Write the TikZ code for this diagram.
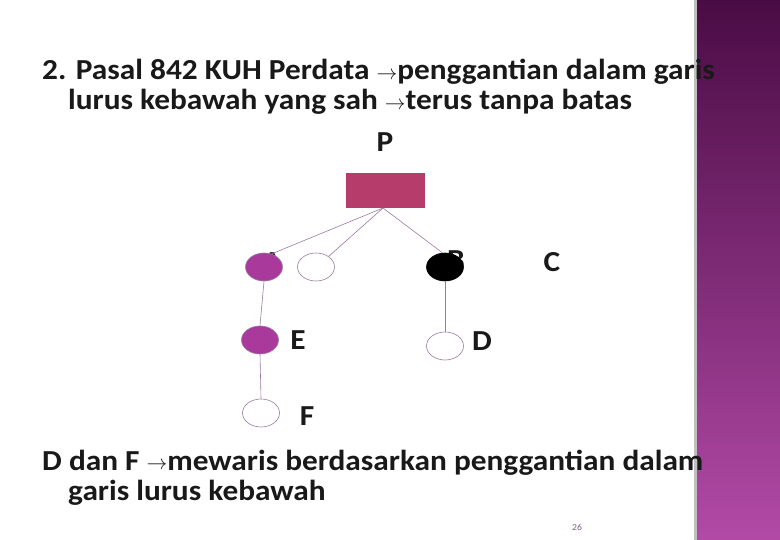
\documentclass[tikz,border=0pt]{standalone}
\usepackage{fontspec}
\setmainfont{Carlito}[FakeStretch=1.08]
\usetikzlibrary{shapes.geometric}
\begin{document}
\begin{tikzpicture}[x=1pt,y=-1pt,
  txt/.style={anchor=base west,inner sep=0pt,font=\fontsize{29}{33}\selectfont\bfseries,text=black!90},
  lbl/.style={anchor=center,inner sep=0pt,font=\fontsize{29}{33}\selectfont\bfseries,text=black!90},
  person/.style={ellipse,draw=linec,line width=0.6pt,minimum width=37pt,minimum height=28pt,inner sep=0pt},
  link/.style={draw=linec,line width=0.6pt}]
\definecolor{linec}{HTML}{9A7CA0}
\definecolor{rectc}{HTML}{B63D6B}
\definecolor{purp}{HTML}{A93A9C}
\definecolor{bandtop}{HTML}{4A0C45}
\definecolor{bandbot}{HTML}{B24AA6}
\definecolor{numc}{HTML}{7A5A80}
\newcommand{\arr}{\raisebox{0.5pt}{\fontsize{21}{21}\selectfont$\rightarrow$}}
\useasboundingbox (0,0) rectangle (780,540);
\fill[white] (0,0) rectangle (780,540);
\fill[black!25] (694,0) rectangle (698,540);
\shade[top color=bandtop,bottom color=bandbot] (697,0) rectangle (780,540);
\node[txt] (l1) at (42,80) {2. Pasal 842 KUH Perdata \arr penggantian dalam garis};
\node[txt] (l2) at (68,110) {lurus kebawah yang sah \arr terus tanpa batas};
\node[lbl] (lp) at (385,142) {P};
\node[fill=rectc,minimum width=79pt,minimum height=35pt,inner sep=0pt] (p) at (385.5,190.5) {};
\node[lbl] (la) at (272,262) {A};
\node[lbl] (lb) at (456,260) {B};
\node[person,fill=purp] (a) at (264,267) {};
\node[person,fill=white] (w) at (316,267) {};
\node[person,fill=black,draw=black] (b) at (445,267) {};
\node[lbl] (lc) at (552,262) {C};
\node[person,fill=purp] (e) at (260,340) {};
\node[lbl] (le) at (298,340) {E};
\node[person,fill=white] (d) at (445,346) {};
\node[lbl] (ld) at (482,341) {D};
\node[person,fill=white] (f) at (261,413) {};
\node[lbl] (lf) at (307,416) {F};
\coordinate (pb) at (383,208);
\draw[link] (pb) -- (a.60);
\draw[link] (pb) -- (w.40);
\draw[link] (pb) -- (b.100);
\draw[link] (a.south) -- (e.north);
\draw[link] (e.south) -- (f.north);
\draw[link] (b.south) -- (d.north);
\node[txt] (l3) at (42,470) {D dan F \arr mewaris berdasarkan penggantian dalam};
\node[txt] (l4) at (68,500) {garis lurus kebawah};
\node[anchor=center,inner sep=0pt,font=\fontsize{9}{10}\selectfont,text=numc] (pg) at (577,527) {26};
\end{tikzpicture}
\end{document}
